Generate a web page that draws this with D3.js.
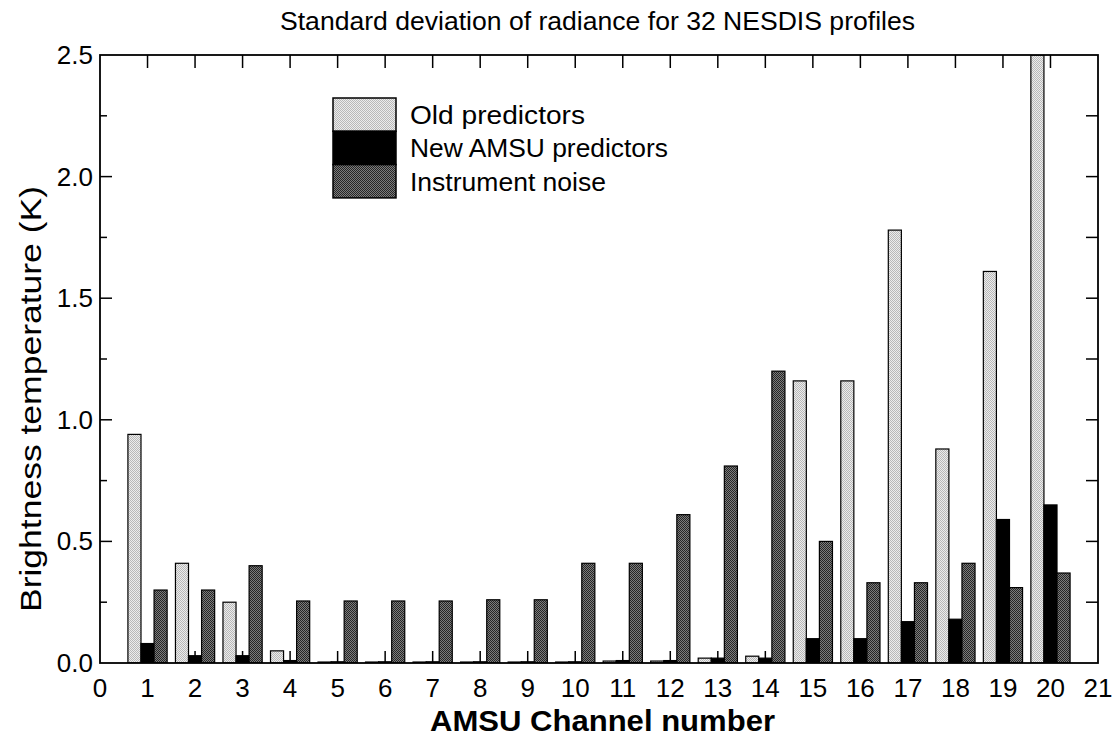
<!doctype html>
<html>
<head>
    <meta charset="utf-8">
    <title>Standard deviation of radiance</title>
    <script src="https://d3js.org/d3.v7.min.js"></script>
    <style type="text/css">
        html, body { margin: 0; background: #fff; }
        svg { display: block; font-family: "Liberation Sans", Arial, Helvetica, sans-serif; }
    </style>
</head>
<body>
<svg id="chart" width="1118" height="738"></svg>
<script type="text/javascript">
    // values
    var channels = [1, 2, 3, 4, 5, 6, 7, 8, 9, 10, 11, 12, 13, 14, 15, 16, 17, 18, 19, 20];
    var oldPredictors = [0.94, 0.41, 0.25, 0.05, 0.004, 0.004, 0.004, 0.004, 0.004, 0.004, 0.008, 0.008, 0.02, 0.028, 1.16, 1.16, 1.78, 0.88, 1.61, 2.5];
    var newPredictors = [0.08, 0.03, 0.03, 0.01, 0.005, 0.005, 0.005, 0.005, 0.005, 0.005, 0.01, 0.01, 0.02, 0.02, 0.10, 0.10, 0.17, 0.18, 0.59, 0.65];
    var instrumentNoise = [0.30, 0.30, 0.40, 0.255, 0.255, 0.255, 0.255, 0.26, 0.26, 0.41, 0.41, 0.61, 0.81, 1.20, 0.50, 0.33, 0.33, 0.41, 0.31, 0.37];
    var seriesNames = ["Old predictors", "New AMSU predictors", "Instrument noise"];
    var xTicks = d3.range(0, 22);
    var yTicks = [0, 0.5, 1.0, 1.5, 2.0, 2.5];
    var yMinor = d3.range(0, 2.51, 0.25);

    var svg = d3.select("#chart");
    var plotL = 100, plotR = 1098, plotT = 55, plotB = 663;

    var x = d3.scaleLinear().domain([0, 21]).range([plotL, plotR]);
    var y = d3.scaleLinear().domain([0, 2.5]).range([plotB, plotT]);

    // halftone-ish fills
    var defs = svg.append("defs");
    function checker(id, a, b) {
        var p = defs.append("pattern").attr("id", id)
            .attr("width", 2).attr("height", 2).attr("patternUnits", "userSpaceOnUse");
        p.append("rect").attr("width", 2).attr("height", 2).attr("fill", a);
        p.append("rect").attr("width", 1).attr("height", 1).attr("fill", b);
        p.append("rect").attr("x", 1).attr("y", 1).attr("width", 1).attr("height", 1).attr("fill", b);
    }
    checker("lightFill", "#ececec", "#b8b8b8");
    checker("darkFill", "#7c7c7c", "#262626");
    var fills = ["url(#lightFill)", "#000", "url(#darkFill)"];

    defs.append("clipPath").attr("id", "plotClip")
        .append("rect").attr("x", plotL).attr("y", plotT).attr("width", plotR - plotL).attr("height", plotB - plotT);

    // bars
    var bw = 0.275;
    var series = [oldPredictors, newPredictors, instrumentNoise];
    var bars = svg.append("g").attr("clip-path", "url(#plotClip)");
    series.forEach(function(vals, s) {
        bars.selectAll(".s" + s)
            .data(channels)
            .enter().append("rect")
            .attr("class", "s" + s)
            .attr("x", function(d) { return x(d + (s - 1.5) * bw); })
            .attr("width", x(bw) - x(0))
            .attr("y", function(d, i) { return y(vals[i]); })
            .attr("height", function(d, i) { return y(0) - y(vals[i]); })
            .attr("fill", fills[s])
            .attr("stroke", "#000")
            .attr("stroke-width", 1.2);
    });

    // frame
    svg.append("rect")
        .attr("x", plotL).attr("y", plotT)
        .attr("width", plotR - plotL).attr("height", plotB - plotT)
        .attr("fill", "none").attr("stroke", "#000").attr("stroke-width", 1.8);

    // inward ticks
    var ticks = svg.append("g").attr("stroke", "#000").attr("stroke-width", 1.5);
    xTicks.slice(1, 21).forEach(function(t) {
        ticks.append("line").attr("x1", x(t)).attr("x2", x(t)).attr("y1", plotT).attr("y2", plotT + 13);
        ticks.append("line").attr("x1", x(t)).attr("x2", x(t)).attr("y1", plotB).attr("y2", plotB - 12);
    });
    yMinor.slice(1, 10).forEach(function(t) {
        var major = Math.abs(t * 2 - Math.round(t * 2)) < 1e-6;
        ticks.append("line").attr("x1", plotL).attr("x2", plotL + (major ? 12 : 7)).attr("y1", y(t)).attr("y2", y(t));
        ticks.append("line").attr("x1", plotR).attr("x2", plotR - 12).attr("y1", y(t)).attr("y2", y(t));
    });

    // tick labels
    svg.append("g").selectAll("text")
        .data(xTicks).enter().append("text")
        .attr("x", function(d) { return x(d); })
        .attr("y", 697)
        .attr("text-anchor", "middle")
        .attr("font-size", 26)
        .text(function(d) { return d; });

    svg.append("g").selectAll("text")
        .data(yTicks).enter().append("text")
        .attr("x", 93)
        .attr("y", function(d) { return y(d) + 9; })
        .attr("text-anchor", "end")
        .attr("font-size", 26)
        .text(function(d) { return d.toFixed(1); });

    // titles
    svg.append("text")
        .attr("x", 280).attr("y", 30)
        .attr("font-size", 25)
        .attr("textLength", 635).attr("lengthAdjust", "spacingAndGlyphs")
        .text("Standard deviation of radiance for 32 NESDIS profiles");

    svg.append("text")
        .attr("x", 430).attr("y", 731)
        .attr("font-size", 29).attr("font-weight", "bold")
        .attr("textLength", 345).attr("lengthAdjust", "spacingAndGlyphs")
        .text("AMSU Channel number");

    svg.append("text")
        .attr("transform", "translate(41,612) rotate(-90)")
        .attr("font-size", 30)
        .attr("textLength", 426).attr("lengthAdjust", "spacingAndGlyphs")
        .text("Brightness temperature (K)");

    // legend
    var legendWidths = [175, 258, 196];
    var legend = svg.append("g");
    seriesNames.forEach(function(name, i) {
        legend.append("rect")
            .attr("x", 333).attr("y", 98 + i * 33.3)
            .attr("width", 63).attr("height", 33.3)
            .attr("fill", fills[i]).attr("stroke", "#000").attr("stroke-width", 1.5);
        legend.append("text")
            .attr("x", 410).attr("y", 124 + i * 33.3)
            .attr("font-size", 25)
            .attr("textLength", legendWidths[i]).attr("lengthAdjust", "spacingAndGlyphs")
            .text(name);
    });
</script>
</body>
</html>
